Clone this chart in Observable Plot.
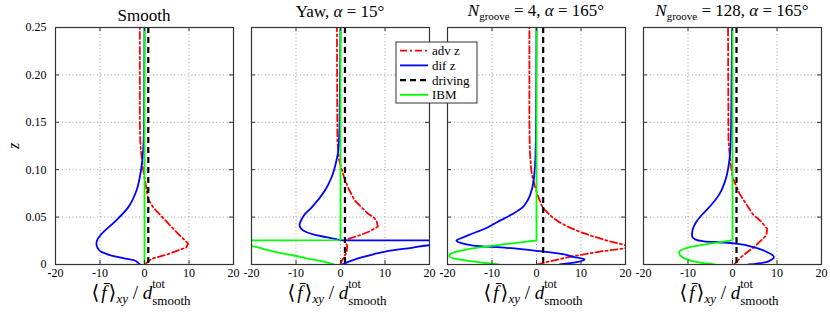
<!DOCTYPE html>
<html><head><meta charset="utf-8">
<script src="https://cdn.jsdelivr.net/npm/d3@7"></script>
<script src="https://cdn.jsdelivr.net/npm/@observablehq/plot@0.6"></script>
<style>
body{margin:0;background:#fff;}
#chart{position:relative;width:830px;height:313px;}
#chart svg text, #chart svg tspan { font-family: "Liberation Serif", "DejaVu Serif", serif !important; }
</style></head><body><div id="chart"></div>
<script>
// ---- data ----
const panels = ["Smooth", "Yaw", "N4", "N128"];
const xTicks = [-20, -10, 0, 10, 20];
const yTicks = [0, 0.05, 0.10, 0.15, 0.20, 0.25];
const driving = [0.85, 1.0, 1.5, 0.9];
const legendNames = ["adv z", "dif z", "driving", "IBM"];

// [z, value] pairs
const smoothAdv = [[0,0.2],[0.002,0.5],[0.006,1.6],[0.011,5.3],[0.018,9.4],[0.022,9.8],[0.036,6.8],[0.05,4.0],[0.06,2.0],[0.068,0.9],[0.075,0.6],[0.089,0.1],[0.10,-0.3],[0.12,-0.8],[0.13,-0.95],[0.15,-1.05],[0.25,-1.05]];
const smoothDif = [[0,-1.0],[0.002,-1.5],[0.0042,-2.2],[0.0077,-5.9],[0.01,-7.8],[0.013,-9.6],[0.017,-10.5],[0.022,-10.8],[0.027,-10.5],[0.032,-9.7],[0.045,-6.7],[0.06,-3.7],[0.078,-1.8],[0.099,-0.8],[0.12,-0.3],[0.15,-0.1],[0.25,0]];
const smoothIbm = [[0,0],[0.25,0]];

const yawAdv = [[0,0],[0.004,0.3],[0.008,0.8],[0.013,1.4],[0.02,1.5],[0.024,1.0],[0.0264,1.3],[0.028,2.5],[0.030,3.8],[0.0348,6.5],[0.04,8.4],[0.046,8.1],[0.05,7.4],[0.0535,6.2],[0.0675,3.2],[0.08,1.8],[0.092,0.8],[0.11,-0.3],[0.13,-0.7],[0.25,-0.8]];
const yawDif = [[0,0.4],[0.004,2.5],[0.0077,4.9],[0.011,7.6],[0.0137,10.1],[0.0176,16.0],[0.0205,20.5],[0.0225,30],[0.024,60],[0.025,150],[0.0254,0.4],[0.0265,-0.8],[0.0288,-3.2],[0.031,-5.5],[0.034,-7.6],[0.038,-8.9],[0.042,-9.2],[0.046,-8.9],[0.052,-8.2],[0.06,-6.5],[0.078,-3.5],[0.092,-2.0],[0.11,-0.9],[0.12,-0.5],[0.15,-0.2],[0.25,0]];
const yawIbm = [[0,-1.4],[0.0032,-4.0],[0.006,-7.0],[0.0095,-10.5],[0.013,-14.5],[0.016,-17],[0.0193,-20],[0.022,-28],[0.024,-50],[0.025,-150],[0.0254,0],[0.25,0]];

const n4Adv = [[0,0.1],[0.002,1.8],[0.0042,3.8],[0.006,5.5],[0.0088,8.3],[0.011,11],[0.0137,14.3],[0.017,19.8],[0.019,20.6],[0.021,19.5],[0.025,16],[0.03,12.5],[0.035,9.5],[0.04,7.0],[0.045,5.0],[0.05,3.5],[0.06,1.4],[0.07,0.5],[0.08,-0.2],[0.09,-0.8],[0.10,-1.2],[0.12,-1.5],[0.15,-1.6],[0.25,-1.6]];
const n4Dif = [[0,5.2],[0.0025,9.0],[0.0053,10.8],[0.0084,8.0],[0.0102,6.7],[0.014,0.75],[0.0176,-6.7],[0.020,-14.2],[0.0225,-16.8],[0.0253,-18.0],[0.028,-16.8],[0.031,-15.3],[0.038,-11.5],[0.0446,-8.9],[0.0535,-5.3],[0.06,-3.2],[0.0675,-2.0],[0.08,-1.0],[0.10,-0.4],[0.12,-0.2],[0.15,-0.1],[0.25,0]];
const n4Ibm = [[0,-8.5],[0.0032,-14.4],[0.0053,-17.4],[0.0088,-19.6],[0.0113,-19.3],[0.0158,-15.8],[0.0193,-10.5],[0.0229,-4.5],[0.0245,-1.8],[0.0253,0],[0.25,0]];

const n128Adv = [[0,0.4],[0.0077,1.9],[0.0148,3.8],[0.018,4.8],[0.0235,6.0],[0.0306,7.6],[0.0377,7.8],[0.045,6.5],[0.0517,4.9],[0.0535,4.5],[0.0745,1.6],[0.092,0.0],[0.11,-0.5],[0.13,-0.9],[0.25,-1.0]];
const n128Dif = [[0,3.6],[0.0025,7.6],[0.0042,8.4],[0.0077,9.3],[0.0095,9.1],[0.013,7.8],[0.0165,6.0],[0.018,4.8],[0.0218,1.2],[0.0232,-2.0],[0.0245,-6.4],[0.0265,-8.4],[0.03,-9.1],[0.0359,-9.0],[0.0446,-8.2],[0.0517,-7.0],[0.057,-5.9],[0.0745,-2.9],[0.092,-1.4],[0.11,-0.7],[0.12,-0.5],[0.15,-0.3],[0.25,-0.1]];
const n128Ibm = [[0,-4.0],[0.0025,-7.9],[0.0067,-10.9],[0.010,-11.8],[0.013,-12.0],[0.015,-11.6],[0.0176,-10.2],[0.021,-6.4],[0.0235,-2.8],[0.025,-1.0],[0.0258,0],[0.25,0]];

// ---- tables ----
const toRows = arrs => arrs.flatMap((a, i) => a.map(([z, v]) => ({panel: panels[i], z, v})));
const advRows = toRows([smoothAdv, yawAdv, n4Adv, n128Adv]);
const difRows = toRows([smoothDif, yawDif, n4Dif, n128Dif]);
const ibmRows = toRows([smoothIbm, yawIbm, n4Ibm, n128Ibm]);
const drivingRows = driving.map((v, i) => ({panel: panels[i], v}));

const RED = "#ff0000", BLUE = "#0000ff", GREEN = "#00ff00", BLACK = "#000000";
const serif = "Liberation Serif, DejaVu Serif, serif";

const plot = Plot.plot({
  width: 830, height: 313,
  marginLeft: 54, marginRight: 8, marginTop: 27, marginBottom: 49,
  style: {fontFamily: serif, fontSize: "12px", background: "white", color: "black"},
  fx: {domain: panels, paddingInner: 0.0918, paddingOuter: 0, axis: null, label: null},
  x: {domain: [-20, 20]},
  y: {domain: [0, 0.25]},
  marks: [
    Plot.gridX(xTicks.slice(1, -1), {stroke: "#888", strokeOpacity: 1, strokeDasharray: "1,2.5", strokeWidth: 0.8}),
    Plot.gridY(yTicks.slice(1, -1), {stroke: "#888", strokeOpacity: 1, strokeDasharray: "1,2.5", strokeWidth: 0.8}),
    Plot.line(advRows, {x: "v", y: "z", fx: "panel", stroke: RED, strokeWidth: 1.8, strokeDasharray: "7,3,2,3", clip: true}),
    Plot.line(difRows, {x: "v", y: "z", fx: "panel", stroke: BLUE, strokeWidth: 1.8, curve: "monotone-y", clip: true}),
    Plot.ruleX(drivingRows, {x: "v", fx: "panel", stroke: BLACK, strokeWidth: 2.2, strokeDasharray: "6,4"}),
    Plot.line(ibmRows, {x: "v", y: "z", fx: "panel", stroke: GREEN, strokeWidth: 1.8, curve: "monotone-y", clip: true}),
    Plot.ruleY(yTicks, {y: d => d, x1: -20, x2: -19.1, stroke: "#333"}),
    Plot.ruleY(yTicks, {y: d => d, x1: 19.1, x2: 20, stroke: "#333"}),
    Plot.ruleX(xTicks, {x: d => d, y1: 0, y2: 0.0042, stroke: "#333"}),
    Plot.ruleX(xTicks, {x: d => d, y1: 0.2458, y2: 0.25, stroke: "#333"}),
    Plot.frame({stroke: "#333", strokeWidth: 1.2}),
    Plot.axisX({ticks: xTicks, tickSize: 0, tickPadding: 4, tickFormat: d => String(d), label: null, fontSize: 12}),
    Plot.axisY({ticks: yTicks, tickSize: 0, tickPadding: 9, tickFormat: d => d === 0 ? "0" : d.toFixed(2), label: null, fontSize: 12})
  ]
});
document.getElementById("chart").appendChild(plot);

// ---- annotations (titles, axis labels, legend) ----
const svg = d3.select(plot);
const fx = plot.scale("fx");
const bw = fx.bandwidth;
const left = p => fx.apply(p);

const titleBaselines = [20.5, 17, 16, 16];
const titles = [
  [{t: "Smooth"}],
  [{t: "Yaw, "}, {t: "α", i: true}, {t: " = 15°"}],
  [{t: "N", i: true}, {t: "groove", s: 11, dy: 4}, {t: " = 4, ", dy: -4}, {t: "α", i: true}, {t: " = 165°"}],
  [{t: "N", i: true}, {t: "groove", s: 11, dy: 4}, {t: " = 128, ", dy: -4}, {t: "α", i: true}, {t: " = 165°"}]
];
panels.forEach((p, k) => {
  const cx = left(p) + bw / 2;
  const t = svg.append("text").attr("x", cx).attr("y", titleBaselines[k])
    .attr("text-anchor", "middle").attr("font-size", 17).attr("font-weight", "normal").attr("fill", "black");
  titles[k].forEach(part => {
    const ts = t.append("tspan").text(part.t);
    if (part.i) ts.attr("font-style", "italic");
    if (part.s) ts.attr("font-size", part.s);
    if (part.dy) ts.attr("dy", part.dy);
  });

  // x label
  const y = 299;
  const g = svg.append("g").attr("text-anchor", "start").attr("fill", "black");
  const main = g.append("text").attr("y", y).attr("font-size", 19);
  main.append("tspan").attr("font-size", 20).text("⟨");
  main.append("tspan").attr("font-style", "italic").attr("dx", 2).text("f\u0304");
  main.append("tspan").attr("font-size", 20).attr("dx", 2).text("⟩");
  main.append("tspan").attr("font-style", "italic").attr("font-size", 13).attr("dy", 4).text("xy");
  main.append("tspan").attr("dy", -4).text(" / ");
  main.append("tspan").attr("font-style", "italic").text("d");
  const sup = g.append("text").attr("y", y - 11).attr("font-size", 12).text("tot");
  const sub = g.append("text").attr("y", y + 6).attr("font-size", 13).text("smooth");
  const w1 = main.node().getComputedTextLength();
  const w2 = Math.max(sup.node().getComputedTextLength(), sub.node().getComputedTextLength());
  const x0 = cx - 3 - (w1 + 4 + w2) / 2;
  main.attr("x", x0);
  sup.attr("x", x0 + w1 + 4);
  sub.attr("x", x0 + w1 + 4);
});

// y label
svg.append("text").attr("transform", "translate(19,146) rotate(-90)").attr("text-anchor", "middle")
  .attr("font-style", "italic").attr("font-size", 16).text("z");

// legend
const lg = svg.append("g").attr("text-anchor", "start");
lg.append("rect").attr("x", 396).attr("y", 42).attr("width", 81).attr("height", 61)
  .attr("fill", "white").attr("stroke", "#333").attr("stroke-width", 1);
const lstyles = [
  {stroke: RED, dash: "7,3,2,3"},
  {stroke: BLUE, dash: null},
  {stroke: BLACK, dash: "6,4"},
  {stroke: GREEN, dash: null}
];
legendNames.forEach((name, i) => {
  const yy = 50.7 + i * 14.7;
  const ln = lg.append("line").attr("x1", 400).attr("x2", 428).attr("y1", yy).attr("y2", yy)
    .attr("stroke", lstyles[i].stroke).attr("stroke-width", i === 2 ? 2.2 : 1.8);
  if (lstyles[i].dash) ln.attr("stroke-dasharray", lstyles[i].dash);
  lg.append("text").attr("x", 432).attr("y", yy + 4.5).attr("font-size", 13).text(name);
});
</script>
</body></html>
